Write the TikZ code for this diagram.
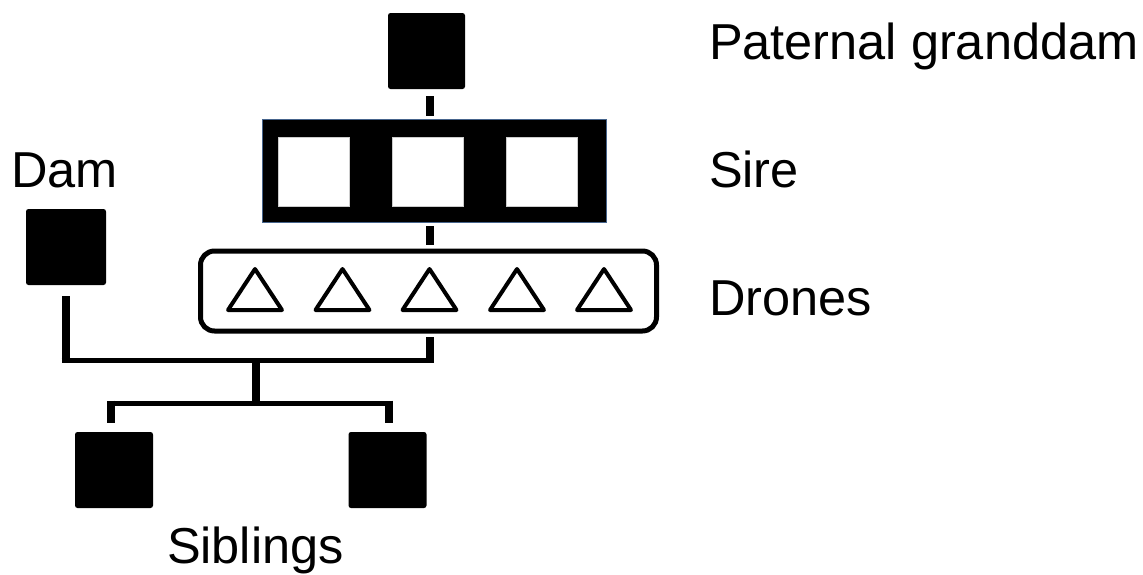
\documentclass[tikz,border=0pt]{standalone}
\usepackage{fontspec}
\setmainfont{Liberation Sans}
\begin{document}
\begin{tikzpicture}[x=1pt,y=-1pt,
  blk/.style={fill=black, rounded corners=2.5pt, inner sep=0, outer sep=0, minimum width=77pt, minimum height=76pt},
  lbl/.style={inner sep=0, outer sep=0, font=\fontsize{50.5}{60}\selectfont, anchor=base west},
  vbar/.style={line width=8pt},
  hbar/.style={line width=5pt},
  tri/.style={line width=4pt, line join=round},
  sirebox/.style={fill=black, draw={rgb,255:red,70;green,100;blue,140}, line width=0.8pt, inner sep=0, outer sep=0, minimum width=344pt, minimum height=103pt},
  cell/.style={fill=white, draw=gray!40, line width=0.5pt, inner sep=0, outer sep=0, minimum width=71pt, minimum height=69pt},
  dronebox/.style={draw=black, line width=5pt, rounded corners=14pt, inner sep=0, outer sep=0, minimum width=456pt, minimum height=80pt}]
\useasboundingbox (0,0) rectangle (1143,574);
\fill[white] (0,0) rectangle (1143,574);

% nodes
\node[blk] (pgd) at (426.5,51) {};
\node[sirebox] (sire) at (434,170.5) {};
\foreach \i/\x in {1/313.5,2/427.5,3/541.5}
  \node[cell] (s\i) at (\x,171.5) {};
\node[dronebox] (drones) at (428.5,291) {};
\foreach \x in {255,342.5,429.5,517,604}
  \draw[tri] (\x-27,310) -- (\x,269) -- (\x+27,310) -- cycle;
\node[blk, minimum width=80pt] (dam) at (66,247) {};
\node[blk, minimum width=78pt] (sib1) at (114,470) {};
\node[blk, minimum width=78pt] (sib2) at (387.5,470) {};

% labels
\node[lbl] (lpgd) at (709,59) {Paternal granddam};
\node[lbl] (lsire) at (709,187) {Sire};
\node[lbl] (ldrones) at (709,315) {Drones};
\node[lbl] (ldam) at (11,187) {Dam};
\node[lbl] (lsib) at (167,563) {Siblings};

% connectors
\coordinate (ax) at (430,0);
\draw[vbar, shorten <=7pt, shorten >=3pt] (pgd.south -| ax) -- (sire.north -| ax);
\draw[vbar, shorten <=4pt, shorten >=6pt] (sire.south -| ax) -- (drones.north -| ax);
\coordinate (j1) at (65.5,360);
\coordinate (j2) at (430,360);
\draw[vbar, shorten <=11pt, shorten >=-2.5pt] (dam.south -| j1) -- (j1);
\draw[vbar, shorten <=6pt, shorten >=-2.5pt] (drones.south -| j2) -- (j2);
\draw[hbar] ([xshift=-4pt]j1) -- ([xshift=4pt]j2);
\coordinate (m1) at (255.5,360);
\coordinate (m2) at (255.5,403);
\draw[vbar] (m1) -- (m2);
\coordinate (k1) at (111,403);
\coordinate (k2) at (388.5,403);
\draw[hbar] ([xshift=-4pt]k1) -- ([xshift=4pt]k2);
\draw[vbar, shorten <=-2.5pt, shorten >=9pt] (k1) -- (k1 |- sib1.north);
\draw[vbar, shorten <=-2.5pt, shorten >=9pt] (k2) -- (k2 |- sib2.north);
\end{tikzpicture}
\end{document}
